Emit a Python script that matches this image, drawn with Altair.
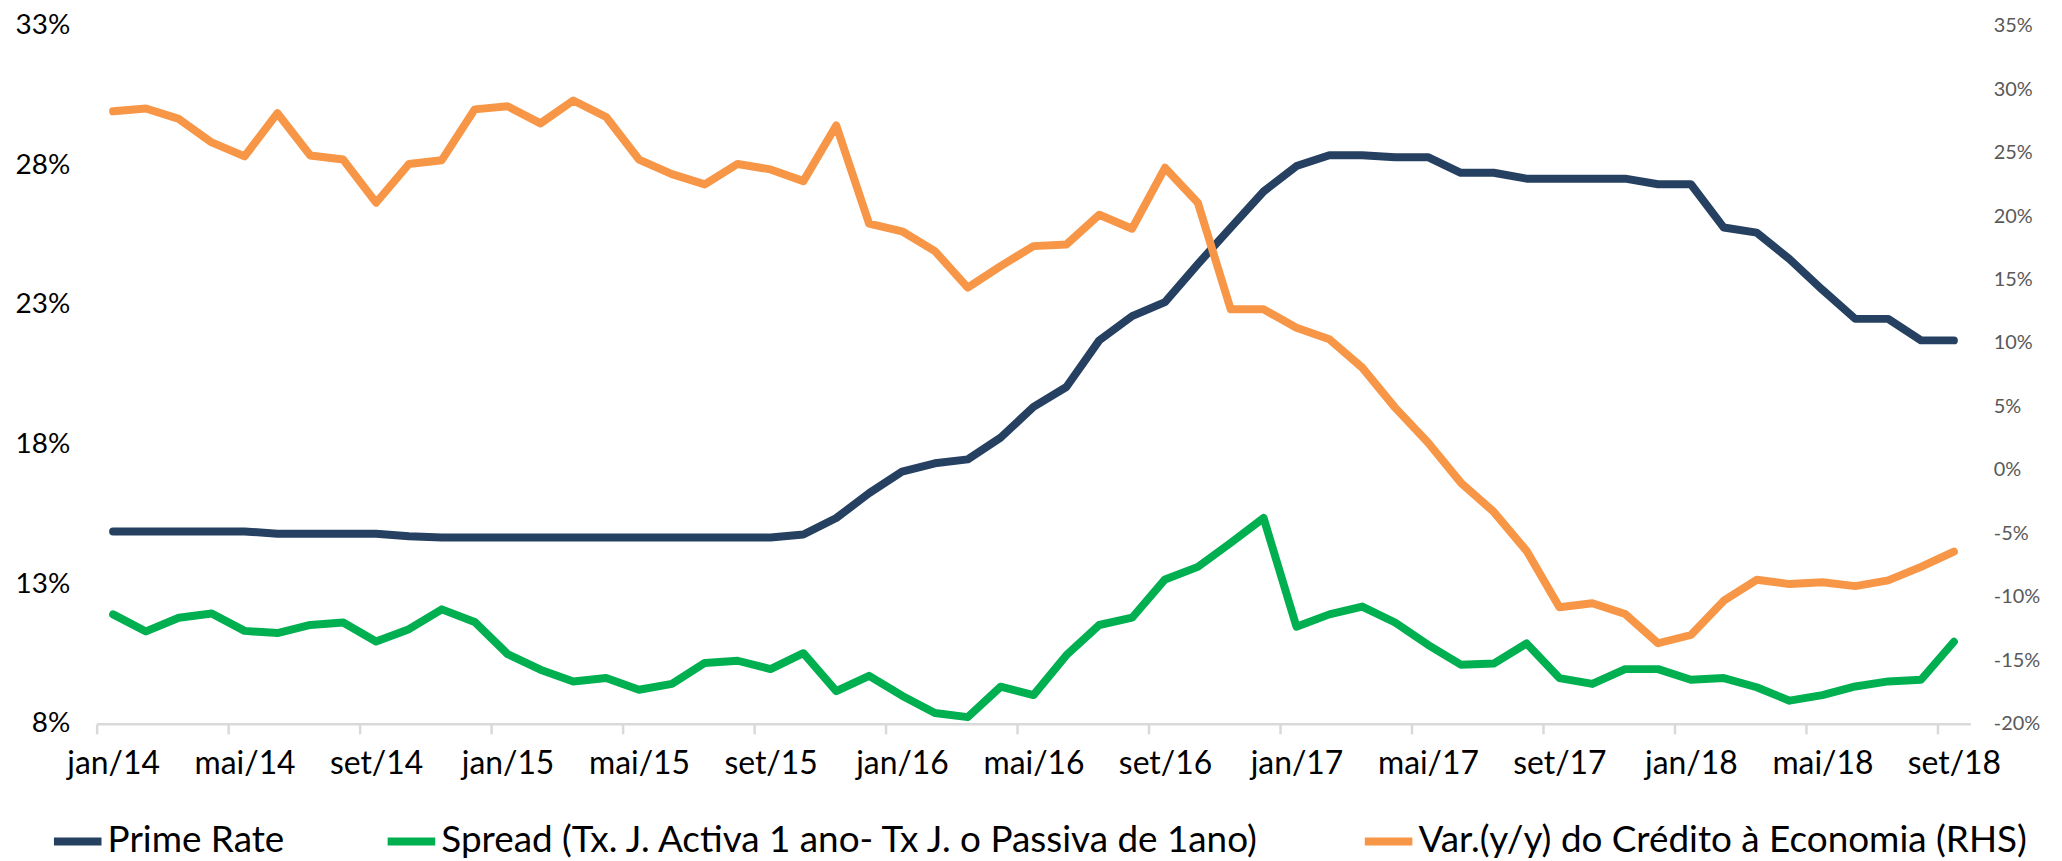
import altair as alt
import pandas as pd

# ---- data -------------------------------------------------------------
month_abbr = ["jan", "fev", "mar", "abr", "mai", "jun", "jul", "ago", "set", "out", "nov", "dez"]
months = [f"{m}/{y}" for y in range(14, 19) for m in month_abbr][:57]   # jan/14 .. set/18

prime_rate = [14.89, 14.89, 14.89, 14.89, 14.89, 14.81, 14.81, 14.81, 14.81, 14.72,
              14.67, 14.67, 14.67, 14.67, 14.67, 14.67, 14.67, 14.67, 14.67, 14.67,
              14.67, 14.78, 15.37, 16.26, 17.03, 17.33, 17.47, 18.25, 19.35, 20.06,
              21.73, 22.60, 23.10, 24.46, 25.77, 27.06, 27.97, 28.36, 28.36, 28.29,
              28.29, 27.73, 27.73, 27.52, 27.52, 27.52, 27.52, 27.32, 27.32, 25.77,
              25.59, 24.64, 23.54, 22.50, 22.50, 21.73, 21.73]

spread = [11.92, 11.31, 11.80, 11.95, 11.33, 11.25, 11.54, 11.63, 10.95, 11.39,
          12.10, 11.65, 10.50, 9.94, 9.52, 9.64, 9.22, 9.43, 10.18, 10.26,
          9.96, 10.53, 9.17, 9.72, 9.01, 8.39, 8.24, 9.33, 9.03, 10.46,
          11.54, 11.80, 13.17, 13.62, 14.48, 15.37, 11.48, 11.92, 12.20, 11.63,
          10.83, 10.12, 10.16, 10.88, 9.64, 9.43, 9.96, 9.96, 9.58, 9.64,
          9.31, 8.83, 9.03, 9.34, 9.52, 9.58, 10.94]

credit_yoy = [28.25, 28.47, 27.65, 25.80, 24.70, 28.10, 24.77, 24.45, 21.05, 24.10,
              24.40, 28.40, 28.65, 27.30, 29.10, 27.80, 24.45, 23.30, 22.49, 24.10,
              23.67, 22.75, 27.13, 19.40, 18.80, 17.24, 14.36, 16.06, 17.63, 17.76,
              20.10, 19.00, 23.80, 21.05, 12.65, 12.65, 11.20, 10.30, 8.06, 4.91,
              2.16, -1.00, -3.30, -6.37, -10.82, -10.50, -11.35, -13.65, -13.00, -10.30,
              -8.65, -8.99, -8.85, -9.15, -8.70, -7.63, -6.44]

series_names = ["Prime Rate",
                "Spread (Tx. J. Activa 1 ano- Tx J. o Passiva de 1ano)",
                "Var.(y/y) do Crédito à Economia (RHS)"]
series_colors = ["#264061", "#00B050", "#F79646"]

left_ticks = [8, 13, 18, 23, 28, 33]
right_ticks = [-20, -15, -10, -5, 0, 5, 10, 15, 20, 25, 30, 35]
x_tick_idx = list(range(0, len(months), 4))
x_tick_labels = [months[i] for i in x_tick_idx]

# ---- table --------------------------------------------------------------
rows = []
for i, m in enumerate(months):
    rows.append({"i": i, "month": m, "series": series_names[0], "value": prime_rate[i]})
    rows.append({"i": i, "month": m, "series": series_names[1], "value": spread[i]})
    rows.append({"i": i, "month": m, "series": series_names[2], "value": credit_yoy[i]})
df = pd.DataFrame(rows)

FONT = "Lato, 'Open Sans', 'DejaVu Sans', sans-serif"
W, H = 1881, 701
month_px = W / len(months)

label_expr = "[" + ",".join(f"'{t}'" for t in x_tick_labels) + "][datum.value / 4]"

legend = alt.Legend(
    title=None,
    orient="none",
    legendX=-47,
    legendY=791,
    direction="horizontal",
    columns=3,
    symbolType="stroke",
    symbolSize=2280,
    symbolStrokeWidth=8,
    labelFont=FONT,
    labelFontSize=37,
    labelColor="#000000",
    labelLimit=2000,
    labelOffset=2,
    columnPadding=87,
)

color = alt.Color("series:N",
                  scale=alt.Scale(domain=series_names, range=series_colors),
                  legend=legend)

x_axis = alt.Axis(values=x_tick_idx, labelExpr=label_expr,
                  labelOffset=month_px / 2, labelFlush=False, labelOverlap=False,
                  labelFont=FONT, labelFontSize=32, labelColor="#000000",
                  labelPadding=15,
                  domainColor="#D9D9D9", domainWidth=2.5,
                  tickColor="#D9D9D9", tickWidth=2.5, tickSize=10,
                  grid=False, title=None)
x_enc = alt.X("x:Q",
              scale=alt.Scale(domain=[0, len(months)], nice=False, zero=False),
              axis=x_axis)

base = alt.Chart(df).transform_calculate(x="datum.i + 0.5")

left = base.transform_filter(
    alt.FieldOneOfPredicate(field="series", oneOf=series_names[:2])
).mark_line(strokeWidth=8, strokeCap="round", strokeJoin="round").encode(
    x=x_enc,
    y=alt.Y("value:Q",
            scale=alt.Scale(domain=[8, 33], nice=False, zero=False),
            axis=alt.Axis(values=left_ticks, labelExpr="datum.value + '%'",
                          domain=False, ticks=False, grid=False, title=None,
                          labelFont=FONT, labelFontSize=28, labelColor="#000000",
                          labelPadding=27)),
    color=color,
    detail="series:N",
)

right = base.transform_filter(
    alt.FieldEqualPredicate(field="series", equal=series_names[2])
).mark_line(strokeWidth=8, strokeCap="round", strokeJoin="round").encode(
    x=x_enc,
    y=alt.Y("value:Q",
            scale=alt.Scale(domain=[-20, 35], nice=False, zero=False),
            axis=alt.Axis(orient="right", values=right_ticks, labelExpr="datum.value + '%'",
                          domain=False, ticks=False, grid=False, title=None,
                          labelFont=FONT, labelFontSize=20, labelColor="#595959",
                          labelPadding=23)),
    color=color,
)

chart = alt.layer(left, right).resolve_scale(y="independent").properties(
    width=W, height=H,
    padding={"left": 89, "top": 16, "right": 84, "bottom": 136},
    autosize=alt.AutoSizeParams(type="none"),
    background="#FFFFFF",
).configure_view(stroke=None)

chart.save("out.html", embed_options={"renderer": "svg", "actions": False})
